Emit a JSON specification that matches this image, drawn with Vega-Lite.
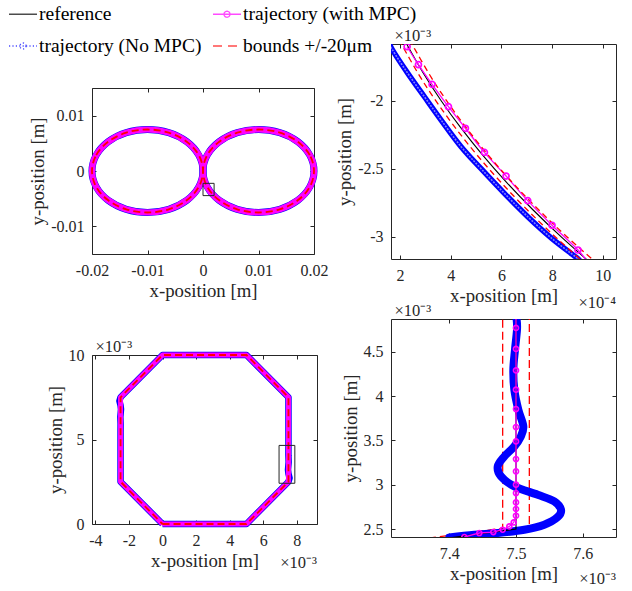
{
"$schema": "https://vega.github.io/schema/vega-lite/v6.json",
"padding": {"left": 12, "top": 3, "right": 5, "bottom": 5},
"config": {
  "font": "Liberation Serif",
  "view": {"stroke": "#262626", "strokeWidth": 1},
  "axis": {"grid": false, "domain": false, "tickColor": "#262626", "tickSize": -4, "tickWidth": 1, "labelPadding": 12, "labelFont": "Liberation Serif", "labelFontSize": 16, "labelColor": "#262626", "labelFlush": false, "labelOverlap": false, "titleFont": "Liberation Serif", "titleFontSize": 18.8, "titleFontWeight": "normal", "titleColor": "#262626", "titlePadding": 3},
  "title": {"font": "Liberation Serif", "fontSize": 16.5, "fontWeight": "normal", "color": "#262626"}
},
"datasets": {
  "p1": [
    {"loop":"R","x":0.02,"y":0},{"loop":"R","x":0.019239,"y":0.00287},{"loop":"R","x":0.017071,"y":0.005303},{"loop":"R","x":0.013827,"y":0.006929},{"loop":"R","x":0.01,"y":0.0075},{"loop":"R","x":0.006173,"y":0.006929},{"loop":"R","x":0.002929,"y":0.005303},{"loop":"R","x":0.000761,"y":0.00287},{"loop":"R","x":0,"y":0},{"loop":"R","x":0.000761,"y":-0.00287},{"loop":"R","x":0.002929,"y":-0.005303},{"loop":"R","x":0.006173,"y":-0.006929},{"loop":"R","x":0.01,"y":-0.0075},{"loop":"R","x":0.013827,"y":-0.006929},{"loop":"R","x":0.017071,"y":-0.005303},{"loop":"R","x":0.019239,"y":-0.00287},
    {"loop":"L","x":-0.02,"y":0},{"loop":"L","x":-0.019239,"y":0.00287},{"loop":"L","x":-0.017071,"y":0.005303},{"loop":"L","x":-0.013827,"y":0.006929},{"loop":"L","x":-0.01,"y":0.0075},{"loop":"L","x":-0.006173,"y":0.006929},{"loop":"L","x":-0.002929,"y":0.005303},{"loop":"L","x":-0.000761,"y":0.00287},{"loop":"L","x":0,"y":0},{"loop":"L","x":-0.000761,"y":-0.00287},{"loop":"L","x":-0.002929,"y":-0.005303},{"loop":"L","x":-0.006173,"y":-0.006929},{"loop":"L","x":-0.01,"y":-0.0075},{"loop":"L","x":-0.013827,"y":-0.006929},{"loop":"L","x":-0.017071,"y":-0.005303},{"loop":"L","x":-0.019239,"y":-0.00287}
  ],
  "p2": [
    {"s":"r","x":2.159,"y":-1.55},{"s":"r","x":2.923,"y":-1.8},{"s":"r","x":3.62,"y":-2.0},{"s":"r","x":4.399,"y":-2.2},{"s":"r","x":5.258,"y":-2.4},{"s":"r","x":6.201,"y":-2.6},{"s":"r","x":7.23,"y":-2.8},{"s":"r","x":8.348,"y":-3.0},{"s":"r","x":9.559,"y":-3.2},
    {"s":"lo","x":1.951,"y":-1.55},{"s":"lo","x":2.712,"y":-1.8},{"s":"lo","x":3.407,"y":-2.0},{"s":"lo","x":4.183,"y":-2.2},{"s":"lo","x":5.039,"y":-2.4},{"s":"lo","x":5.978,"y":-2.6},{"s":"lo","x":7.003,"y":-2.8},{"s":"lo","x":8.117,"y":-3.0},{"s":"lo","x":9.323,"y":-3.2},
    {"s":"hi","x":2.367,"y":-1.55},{"s":"hi","x":3.134,"y":-1.8},{"s":"hi","x":3.833,"y":-2.0},{"s":"hi","x":4.615,"y":-2.2},{"s":"hi","x":5.477,"y":-2.4},{"s":"hi","x":6.424,"y":-2.6},{"s":"hi","x":7.457,"y":-2.8},{"s":"hi","x":8.579,"y":-3.0},{"s":"hi","x":9.795,"y":-3.2},
    {"s":"m","x":2.276,"y":-1.603},{"s":"m","x":2.723,"y":-1.735},{"s":"m","x":3.262,"y":-1.88},{"s":"m","x":3.907,"y":-2.044},{"s":"m","x":4.577,"y":-2.203},{"s":"m","x":5.327,"y":-2.38},{"s":"m","x":6.181,"y":-2.554},{"s":"m","x":7.036,"y":-2.735},{"s":"m","x":7.996,"y":-2.916},{"s":"m","x":9.02,"y":-3.098},{"s":"m","x":9.5,"y":-3.215},
    {"s":"n","x":1.55,"y":-1.56},{"s":"n","x":1.684,"y":-1.622},{"s":"n","x":2.304,"y":-1.799},{"s":"n","x":2.959,"y":-1.971},{"s":"n","x":3.617,"y":-2.142},{"s":"n","x":4.406,"y":-2.338},{"s":"n","x":5.195,"y":-2.5},{"s":"n","x":6.114,"y":-2.681},{"s":"n","x":7.037,"y":-2.853},{"s":"n","x":7.984,"y":-3.012},{"s":"n","x":8.943,"y":-3.151},{"s":"n","x":9.1,"y":-3.18}
  ],
  "p3": [
    {"s":"r","x":0,"y":0},{"s":"r","x":5,"y":0},{"s":"r","x":7.5,"y":2.5},{"s":"r","x":7.5,"y":7.5},{"s":"r","x":5,"y":10},{"s":"r","x":0,"y":10},{"s":"r","x":-2.5,"y":7.5},{"s":"r","x":-2.5,"y":2.5},{"s":"r","x":0,"y":0},
    {"s":"n","x":0,"y":0},{"s":"n","x":5,"y":0},
    {"s":"n","x":7.5,"y":2.5},{"s":"n","x":7.567,"y":2.72},{"s":"n","x":7.5,"y":2.98},{"s":"n","x":7.473,"y":3.21},{"s":"n","x":7.511,"y":3.66},{"s":"n","x":7.497,"y":4.07},{"s":"n","x":7.5,"y":4.6},{"s":"n","x":7.5,"y":7.5},
    {"s":"n","x":5,"y":10},{"s":"n","x":0,"y":10},
    {"s":"n","x":-2.5,"y":7.5},{"s":"n","x":-2.567,"y":7.28},{"s":"n","x":-2.5,"y":7.02},{"s":"n","x":-2.473,"y":6.79},{"s":"n","x":-2.511,"y":6.34},{"s":"n","x":-2.497,"y":5.93},{"s":"n","x":-2.5,"y":5.4},{"s":"n","x":-2.5,"y":2.5},{"s":"n","x":0,"y":0}
  ],
  "p4": [
    {"s":"r","x":7.35,"y":2.35},{"s":"r","x":7.5,"y":2.5},{"s":"r","x":7.5,"y":5.0},
    {"s":"lo","x":7.35,"y":2.3783},{"s":"lo","x":7.48,"y":2.5083},{"s":"lo","x":7.48,"y":5.0},
    {"s":"hi","x":7.35,"y":2.3217},{"s":"hi","x":7.52,"y":2.4917},{"s":"hi","x":7.52,"y":5.0},
    {"s":"m","x":7.4225,"y":2.41},{"s":"m","x":7.445,"y":2.455},{"s":"m","x":7.466,"y":2.466},{"s":"m","x":7.48,"y":2.492},{"s":"m","x":7.49,"y":2.529},{"s":"m","x":7.4966,"y":2.574},{"s":"m","x":7.5,"y":2.65},{"s":"m","x":7.5,"y":2.726},{"s":"m","x":7.5,"y":2.8},{"s":"m","x":7.5,"y":2.906},{"s":"m","x":7.5,"y":3.0},{"s":"m","x":7.5,"y":3.15},{"s":"m","x":7.5,"y":3.29},{"s":"m","x":7.5,"y":3.489},{"s":"m","x":7.5,"y":3.651},{"s":"m","x":7.5,"y":3.854},{"s":"m","x":7.5,"y":4.072},{"s":"m","x":7.5,"y":4.29},{"s":"m","x":7.5,"y":4.532},{"s":"m","x":7.5,"y":4.769},{"s":"m","x":7.5,"y":4.95},
    {"s":"n","x":7.4,"y":2.405},{"s":"n","x":7.4375,"y":2.436},{"s":"n","x":7.4726,"y":2.455},{"s":"n","x":7.5124,"y":2.492},{"s":"n","x":7.5424,"y":2.549},{"s":"n","x":7.5625,"y":2.635},{"s":"n","x":7.5675,"y":2.718},{"s":"n","x":7.5574,"y":2.812},{"s":"n","x":7.5325,"y":2.887},{"s":"n","x":7.4975,"y":2.981},{"s":"n","x":7.4775,"y":3.094},{"s":"n","x":7.4726,"y":3.207},{"s":"n","x":7.4825,"y":3.319},{"s":"n","x":7.4975,"y":3.432},{"s":"n","x":7.507,"y":3.54},{"s":"n","x":7.511,"y":3.66},{"s":"n","x":7.5035,"y":3.847},{"s":"n","x":7.4975,"y":4.072},{"s":"n","x":7.496,"y":4.298},{"s":"n","x":7.4985,"y":4.524},{"s":"n","x":7.5015,"y":4.75},{"s":"n","x":7.501,"y":4.862}
  ]
},
"hconcat": [
  {"vconcat": [
    {"width": 1, "height": 1, "view": {"stroke": null},
     "data": {"values": []},
     "mark": {"type": "point", "filled": false},
     "encoding": {
       "stroke": {"datum": "reference", "type": "nominal",
         "scale": {"domain": ["reference", "trajectory (No MPC)", "trajectory (with MPC)", "bounds +/-20μm"], "range": ["#000000", "#0000ff", "#ff00ff", "#ff0000"]},
         "legend": {"title": null, "orient": "none", "legendX": -80, "legendY": -41, "columns": 2, "columnPadding": 8, "rowPadding": 11, "symbolSize": 400, "symbolStrokeWidth": 1.3, "labelFont": "Liberation Serif", "labelFontSize": 19.5, "labelColor": "#000000", "labelOffset": 5, "labelLimit": 400, "padding": 0}},
       "strokeDash": {"datum": "reference", "type": "nominal",
         "scale": {"domain": ["reference", "trajectory (No MPC)", "trajectory (with MPC)", "bounds +/-20μm"], "range": [[1,0],[1.2,2.2],[1,0],[9,6]]}},
       "shape": {"datum": "reference", "type": "nominal",
         "scale": {"domain": ["reference", "trajectory (No MPC)", "trajectory (with MPC)", "bounds +/-20μm"], "range": ["M-1.4,0H1.4", "M-1.4,0H1.4M0.3,0A0.3,0.3,0,1,1,-0.3,0A0.3,0.3,0,1,1,0.3,0", "M-1.4,0H1.4M0.3,0A0.3,0.3,0,1,1,-0.3,0A0.3,0.3,0,1,1,0.3,0", "M-1.4,0H1.4"]}}
     }
    },
    {"vconcat": [
      {"width": 222, "height": 166,
       "layer": [
         {"data": {"name": "p1"},
          "encoding": {
            "x": {"field": "x", "type": "quantitative", "scale": {"domain": [-0.02, 0.02], "nice": false, "zero": false}, "axis": {"values": [-0.02, -0.01, 0, 0.01, 0.02], "title": "x-position [m]", "labelExpr": "'' + datum.value"}},
            "y": {"field": "y", "type": "quantitative", "scale": {"domain": [-0.015, 0.015], "nice": false, "zero": false}, "axis": {"values": [-0.01, 0, 0.01], "title": "y-position [m]", "labelExpr": "'' + datum.value"}},
            "detail": {"field": "loop"},
            "order": {"value": null}
          },
          "layer": [
            {"mark": {"type": "line", "interpolate": "cardinal-closed", "color": "#0000ff", "strokeWidth": 7}},
            {"mark": {"type": "line", "interpolate": "cardinal-closed", "color": "#ff00ff", "strokeWidth": 6.2}},
            {"mark": {"type": "line", "interpolate": "cardinal-closed", "color": "#ff0000", "strokeWidth": 1.8, "strokeDash": [7, 4]}}
          ]
         },
         {"data": {"values": [{"x0": 0, "x1": 0.002, "y0": -0.00445, "y1": -0.00223}]},
          "mark": {"type": "rect", "filled": false, "color": "#262626", "strokeWidth": 1},
          "encoding": {
            "x": {"field": "x0", "type": "quantitative", "scale": {"domain": [-0.02, 0.02], "nice": false, "zero": false}, "axis": {"orient": "top", "labels": false, "title": null, "values": [-0.02, -0.01, 0, 0.01, 0.02]}},
            "x2": {"field": "x1"},
            "y": {"field": "y0", "type": "quantitative", "scale": {"domain": [-0.015, 0.015], "nice": false, "zero": false}, "axis": {"orient": "right", "labels": false, "title": null, "values": [-0.01, 0, 0.01]}},
            "y2": {"field": "y1"}
          }
         }
       ],
       "resolve": {"axis": {"x": "independent", "y": "independent"}}
      },
      {"width": 225, "height": 169,
       "title": {"text": "×10⁻³", "orient": "bottom", "anchor": "end", "frame": "group", "offset": -15},
       "layer": [
         {"data": {"name": "p3"},
          "encoding": {
            "x": {"field": "x", "type": "quantitative", "scale": {"domain": [-4.2, 9.2], "nice": false, "zero": false}, "axis": {"values": [-4, -2, 0, 2, 4, 6, 8], "title": "x-position [m]", "labelExpr": "'' + datum.value"}},
            "y": {"field": "y", "type": "quantitative", "scale": {"domain": [0, 10], "nice": false, "zero": false}, "axis": {"values": [0, 5, 10], "title": "y-position [m]", "labelExpr": "'' + datum.value"}},
            "order": {"value": null}
          },
          "layer": [
            {"transform": [{"filter": "datum.s === 'n'"}], "mark": {"type": "line", "color": "#0000ff", "strokeWidth": 6.5, "strokeJoin": "round"}},
            {"transform": [{"filter": "datum.s === 'r'"}], "mark": {"type": "line", "color": "#ff00ff", "strokeWidth": 5, "strokeJoin": "round"}},
            {"transform": [{"filter": "datum.s === 'r'"}], "mark": {"type": "line", "color": "#ff0000", "strokeWidth": 1.8, "strokeDash": [7, 4]}}
          ]
         },
         {"data": {"values": [{"x0": 6.94, "x1": 7.88, "y0": 2.41, "y1": 4.65}]},
          "mark": {"type": "rect", "filled": false, "color": "#262626", "strokeWidth": 1},
          "encoding": {
            "x": {"field": "x0", "type": "quantitative", "scale": {"domain": [-4.2, 9.2], "nice": false, "zero": false}, "axis": {"orient": "top", "labels": false, "values": [-4, -2, 0, 2, 4, 6, 8], "title": "×10⁻³", "titleFontSize": 16.5, "titleAnchor": "start", "titleAlign": "left", "titleAngle": 0, "titleX": 3, "titleY": -4, "titleBaseline": "alphabetic"}},
            "x2": {"field": "x1"},
            "y": {"field": "y0", "type": "quantitative", "scale": {"domain": [0, 10], "nice": false, "zero": false}, "axis": {"orient": "right", "labels": false, "title": null, "values": [0, 5, 10]}},
            "y2": {"field": "y1"}
          }
         }
       ],
       "resolve": {"axis": {"x": "independent", "y": "independent"}}
      }
    ], "spacing": 36}
  ], "spacing": 42},
  {"vconcat": [
    {"width": 225, "height": 215,
     "title": {"text": "×10⁻⁴", "orient": "bottom", "anchor": "end", "frame": "group", "offset": -10},
     "data": {"name": "p2"},
     "layer": [
       {"encoding": {
          "x": {"field": "x", "type": "quantitative", "scale": {"domain": [1.64, 10.52], "nice": false, "zero": false}, "axis": {"values": [2, 4, 6, 8, 10], "title": "x-position [m]", "labelExpr": "'' + datum.value"}},
          "y": {"field": "y", "type": "quantitative", "scale": {"domain": [-3.164, -1.583], "nice": false, "zero": false}, "axis": {"values": [-3, -2.5, -2], "title": "y-position [m]", "labelExpr": "'' + datum.value"}},
          "order": {"value": null}
        },
        "layer": [
          {"transform": [{"filter": "datum.s === 'n'"}], "mark": {"type": "line", "clip": true, "interpolate": "cardinal", "color": "#0000ff", "strokeWidth": 5.5}},
          {"transform": [{"filter": "datum.s === 'n'"}], "mark": {"type": "line", "clip": true, "interpolate": "cardinal", "color": "#8080ff", "strokeWidth": 1.6, "strokeDash": [2, 1.2]}},
          {"transform": [{"filter": "datum.s === 'r'"}], "mark": {"type": "line", "clip": true, "interpolate": "cardinal", "color": "#000000", "strokeWidth": 1.1}},
          {"transform": [{"filter": "datum.s === 'm'"}], "mark": {"type": "line", "clip": true, "interpolate": "cardinal", "color": "#ff00ff", "strokeWidth": 1.3}},
          {"transform": [{"filter": "datum.s === 'lo' || datum.s === 'hi'"}], "mark": {"type": "line", "clip": true, "interpolate": "cardinal", "color": "#ff0000", "strokeWidth": 1.3, "strokeDash": [6, 4]}, "encoding": {"detail": {"field": "s"}}},
          {"transform": [{"filter": "datum.s === 'm'"}], "mark": {"type": "point", "clip": true, "filled": false, "color": "#ff00ff", "size": 36, "strokeWidth": 1.7, "opacity": 1}}
        ]
       },
       {"mark": {"type": "point", "opacity": 0},
        "encoding": {
          "x": {"field": "x", "type": "quantitative", "scale": {"domain": [1.64, 10.52], "nice": false, "zero": false}, "axis": {"orient": "top", "labels": false, "values": [2, 4, 6, 8, 10], "title": "×10⁻³", "titleFontSize": 16.5, "titleAnchor": "start", "titleAlign": "left", "titleAngle": 0, "titleX": 3, "titleY": -4, "titleBaseline": "alphabetic"}},
          "y": {"field": "y", "type": "quantitative", "scale": {"domain": [-3.164, -1.583], "nice": false, "zero": false}, "axis": {"orient": "right", "labels": false, "title": null, "values": [-3, -2.5, -2]}}
        }
       }
     ],
     "resolve": {"axis": {"x": "independent", "y": "independent"}}
    },
    {"width": 225, "height": 218,
     "title": {"text": "×10⁻³", "orient": "bottom", "anchor": "end", "frame": "group", "offset": -12},
     "data": {"name": "p4"},
     "layer": [
       {"encoding": {
          "x": {"field": "x", "type": "quantitative", "scale": {"domain": [7.3125, 7.65], "nice": false, "zero": false}, "axis": {"values": [7.4, 7.5, 7.6], "title": "x-position [m]", "labelExpr": "'' + datum.value"}},
          "y": {"field": "y", "type": "quantitative", "scale": {"domain": [2.41, 4.87], "nice": false, "zero": false}, "axis": {"values": [2.5, 3, 3.5, 4, 4.5], "title": "y-position [m]", "labelExpr": "'' + datum.value"}},
          "order": {"value": null}
        },
        "layer": [
          {"transform": [{"filter": "datum.s === 'lo' || datum.s === 'hi'"}], "mark": {"type": "line", "clip": true, "color": "#ff0000", "strokeWidth": 1.3, "strokeDash": [8, 4]}, "encoding": {"detail": {"field": "s"}}},
          {"transform": [{"filter": "datum.s === 'n'"}], "mark": {"type": "line", "clip": true, "interpolate": "cardinal", "color": "#0000ff", "strokeWidth": 8, "strokeCap": "round"}},
          {"transform": [{"filter": "datum.s === 'r'"}], "mark": {"type": "line", "clip": true, "color": "#000000", "strokeWidth": 1.1}},
          {"transform": [{"filter": "datum.s === 'm'"}], "mark": {"type": "line", "clip": true, "color": "#ff00ff", "strokeWidth": 1.3}},
          {"transform": [{"filter": "datum.s === 'm'"}], "mark": {"type": "point", "clip": true, "filled": false, "color": "#ff00ff", "size": 26, "strokeWidth": 1.6, "opacity": 1}}
        ]
       },
       {"mark": {"type": "point", "opacity": 0},
        "encoding": {
          "x": {"field": "x", "type": "quantitative", "scale": {"domain": [7.3125, 7.65], "nice": false, "zero": false}, "axis": {"orient": "top", "labels": false, "values": [7.4, 7.5, 7.6], "title": "×10⁻³", "titleFontSize": 16.5, "titleAnchor": "start", "titleAlign": "left", "titleAngle": 0, "titleX": 3, "titleY": -4, "titleBaseline": "alphabetic"}},
          "y": {"field": "y", "type": "quantitative", "scale": {"domain": [2.41, 4.87], "nice": false, "zero": false}, "axis": {"orient": "right", "labels": false, "title": null, "values": [2.5, 3, 3.5, 4, 4.5]}}
        }
       }
     ],
     "resolve": {"axis": {"x": "independent", "y": "independent"}}
    }
  ], "spacing": -11}
],
"spacing": 6
}
